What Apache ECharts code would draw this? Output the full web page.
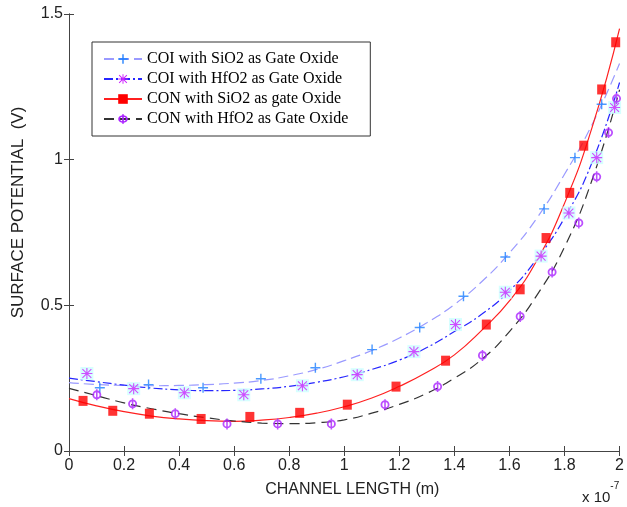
<!DOCTYPE html>
<html><head><meta charset="utf-8">
<script src="https://cdn.jsdelivr.net/npm/echarts@6/dist/echarts.min.js"></script>
<style>html,body{margin:0;padding:0;background:#fff}#c{width:627px;height:507px}</style>
</head><body><div id="c"></div>
<script>
const seriesNames = ['COI with SiO2 as Gate Oxide','COI with HfO2 as Gate Oxide','CON with SiO2 as gate Oxide','CON with HfO2 as Gate Oxide'];
const xTickLabels = ['0','0.2','0.4','0.6','0.8','1','1.2','1.4','1.6','1.8','2'];
const yTickLabels = ['0','0.5','1','1.5'];

// model curves (x in units of 1e-7 m)
const lineX = [0,0.1,0.2,0.3,0.4,0.5,0.6,0.7,0.8,0.9,1.0,1.1,1.2,1.3,1.4,1.5,1.6,1.7,1.8,1.9,2.0];
const coiSiO2LineY = [0.235,0.228,0.225,0.224,0.225,0.228,0.233,0.242,0.258,0.28,0.31,0.345,0.388,0.44,0.503,0.582,0.68,0.8,0.95,1.12,1.33];
const coiHfO2LineY = [0.25,0.238,0.226,0.216,0.21,0.207,0.208,0.213,0.222,0.236,0.255,0.28,0.312,0.355,0.41,0.47,0.55,0.66,0.8,0.99,1.265];
const conSiO2LineY = [0.18,0.155,0.135,0.12,0.11,0.104,0.102,0.106,0.115,0.13,0.152,0.182,0.222,0.27,0.33,0.415,0.515,0.655,0.85,1.11,1.45];
const conHfO2LineY = [0.215,0.19,0.165,0.145,0.128,0.114,0.103,0.096,0.094,0.097,0.107,0.13,0.16,0.198,0.25,0.315,0.41,0.535,0.7,0.93,1.24];

// simulated points
const coiSiO2X = [0.112,0.289,0.487,0.697,0.895,1.101,1.274,1.433,1.585,1.726,1.838,1.935];
const coiSiO2Y = [0.217,0.228,0.217,0.248,0.286,0.348,0.424,0.531,0.666,0.831,1.007,1.19];
const coiHfO2X = [0.065,0.235,0.419,0.635,0.848,1.047,1.253,1.404,1.585,1.715,1.816,1.917,1.982];
const coiHfO2Y = [0.266,0.214,0.2,0.193,0.224,0.262,0.341,0.434,0.545,0.669,0.817,1.007,1.179];
const conSiO2X = [0.051,0.159,0.292,0.48,0.657,0.838,1.011,1.188,1.368,1.516,1.639,1.733,1.819,1.87,1.935,1.986];
const conSiO2Y = [0.172,0.138,0.128,0.11,0.117,0.131,0.159,0.221,0.31,0.434,0.555,0.731,0.886,1.048,1.241,1.403];
const conHfO2X = [0.101,0.231,0.386,0.574,0.758,0.953,1.148,1.339,1.502,1.639,1.755,1.852,1.917,1.96,1.989];
const conHfO2Y = [0.193,0.162,0.128,0.093,0.093,0.093,0.159,0.221,0.328,0.462,0.614,0.783,0.941,1.093,1.21];

const pair = (xs, ys) => xs.map((x, i) => [x, ys[i]]);

const PLUS = 'path://M4.3,0H5.7V4.3H10V5.7H5.7V10H4.3V5.7H0V4.3H4.3Z';
const STAR = 'path://M4.5,0H5.5V10H4.5Z M0,4.5H10V5.5H0Z M0.6,1.3L1.3,0.6L9.4,8.7L8.7,9.4Z M8.7,0.6L9.4,1.3L1.3,9.4L0.6,8.7Z';
const PHI = 'path://M1,5A4,4 0 1,1 9,5A4,4 0 1,1 1,5Z M2.6,5A2.4,2.4 0 1,0 7.4,5A2.4,2.4 0 1,0 2.6,5Z M4.3,0H5.7V10H4.3Z';

const axisCol = '#444';
const fontSans = 'Liberation Sans, Arial, sans-serif';

function lineSeries(name, ys, color, type, sym, symColor) {
  return {
    name, type: 'line', smooth: true, showSymbol: false, symbol: sym, symbolSize: 9,
    data: pair(lineX, ys), z: 2,
    lineStyle: { color, width: 1.2, type },
    itemStyle: { color: symColor, borderColor: symColor },
    emphasis: { disabled: true }, silent: true
  };
}
function scatterSeries(name, xs, ys, sym, size, color, extra) {
  return Object.assign({
    name, type: 'scatter', symbol: sym, symbolSize: size, data: pair(xs, ys), z: 4,
    itemStyle: { color }, emphasis: { disabled: true }, silent: true
  }, extra || {});
}

const chart = echarts.init(document.getElementById('c'), null, { renderer: 'canvas' });
const option = {
  animation: false,
  grid: { left: 69, right: 4, top: 14, bottom: 56, containLabel: false },
  legend: {
    data: seriesNames, orient: 'vertical', left: 92, top: 42,
    padding: [9, 22, 9, 11], itemGap: 4, itemWidth: 38, itemHeight: 12,
    backgroundColor: '#fff', borderColor: '#333', borderWidth: 1, borderRadius: 0,
    textStyle: { fontFamily: 'Liberation Serif, Times New Roman, serif', fontSize: 16, color: '#000' },
    selectedMode: false
  },
  xAxis: [{
    type: 'value', min: 0, max: 2, interval: 0.2, position: 'bottom',
    name: 'CHANNEL LENGTH (m)', nameLocation: 'middle', nameGap: 31,
    nameTextStyle: { fontFamily: fontSans, fontSize: 16, color: '#222', padding: [0, 0, 0, 16] },
    axisLine: { show: true, lineStyle: { color: axisCol, width: 1 } },
    axisTick: { show: true, inside: true, length: 5, lineStyle: { color: axisCol } },
    axisLabel: { fontFamily: fontSans, fontSize: 16, color: '#222', margin: 7,
      formatter: v => xTickLabels[Math.round(v / 0.2)] },
    splitLine: { show: false }
  }, {
    type: 'value', min: 0, max: 2, interval: 0.2, position: 'top',
    axisLine: { show: true, lineStyle: { color: axisCol, width: 1 } },
    axisTick: { show: true, inside: true, length: 5, lineStyle: { color: axisCol } },
    axisLabel: { show: false }, splitLine: { show: false }
  }],
  yAxis: [{
    type: 'value', min: 0, max: 1.5, interval: 0.5, position: 'left',
    name: 'SURFACE POTENTIAL  (V)', nameLocation: 'middle', nameGap: 42, nameRotate: 90,
    nameTextStyle: { fontFamily: fontSans, fontSize: 17, color: '#222', padding: [0, 0, 0, 40] },
    axisLine: { show: true, lineStyle: { color: axisCol, width: 1 } },
    axisTick: { show: true, inside: true, length: 5, lineStyle: { color: axisCol } },
    axisLabel: { fontFamily: fontSans, fontSize: 16, color: '#222', margin: 6,
      formatter: v => yTickLabels[Math.round(v / 0.5)] },
    splitLine: { show: false }
  }, {
    type: 'value', min: 0, max: 1.5, interval: 0.5, position: 'right',
    axisLine: { show: true, lineStyle: { color: axisCol, width: 1 } },
    axisTick: { show: true, inside: true, length: 5, lineStyle: { color: axisCol } },
    axisLabel: { show: false }, splitLine: { show: false }
  }],
  graphic: [{
    type: 'text', left: 582, top: 481,
    style: {
      text: '{a|x 10}{b|-7}',
      rich: {
        a: { fontFamily: fontSans, fontSize: 15, fill: '#222', padding: [9, 0, 0, 0] },
        b: { fontFamily: fontSans, fontSize: 10, fill: '#222', verticalAlign: 'top' }
      }
    }
  }],
  series: [
    lineSeries(seriesNames[0], coiSiO2LineY, '#9a9aff', [10, 5], PLUS, '#1e7fff'),
    lineSeries(seriesNames[1], coiHfO2LineY, '#2626ff', [9, 3, 2, 3], STAR, '#cc22ff'),
    lineSeries(seriesNames[2], conSiO2LineY, '#ff2020', 'solid', 'rect', '#ff0000'),
    lineSeries(seriesNames[3], conHfO2LineY, '#333333', [10, 6], PHI, '#aa22ff'),
    scatterSeries('bg', coiHfO2X, coiHfO2Y, 'rect', 13, '#ccffff', { z: 3 }),
    scatterSeries(seriesNames[0], coiSiO2X, coiSiO2Y, PLUS, 10, '#1e7fff'),
    scatterSeries(seriesNames[1], coiHfO2X, coiHfO2Y, STAR, 11, '#cc22ff'),
    scatterSeries(seriesNames[2], conSiO2X, conSiO2Y, 'rect', [9, 10], '#ff0000'),
    scatterSeries(seriesNames[3], conHfO2X, conHfO2Y, PHI, [9, 11], '#aa22ff')
  ]
};
chart.setOption(option);
</script></body></html>
